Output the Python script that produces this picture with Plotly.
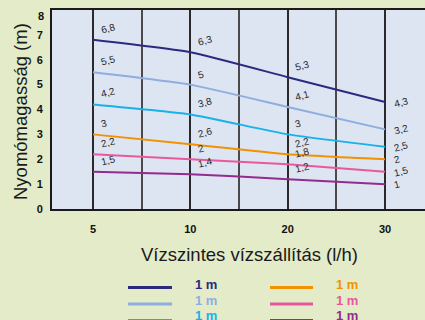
import plotly.graph_objects as go

# Flow rates (l/h) shown as evenly spaced categories
flow_rates = ["5", "10", "20", "30"]

# Pressure head (m) for each pump curve
head_a = [6.8, 6.3, 5.3, 4.3]
head_b = [5.5, 5.0, 4.1, 3.2]
head_c = [4.2, 3.8, 3.0, 2.5]
head_d = [3.0, 2.6, 2.2, 2.0]
head_e = [2.2, 2.0, 1.8, 1.5]
head_f = [1.5, 1.4, 1.2, 1.0]

series_values = [head_a, head_b, head_c, head_d, head_e, head_f]
series_names = ["1 m", "1 m", "1 m", "1 m", "1 m", "1 m"]
series_colors = ["#2c2a7e", "#8eaede", "#19b2e8", "#f39200", "#e9589c", "#952b8d"]

y_ticks = [0, 1, 2, 3, 4, 5, 6, 7]
y_top = 8

FONT = "Arial, Liberation Sans, sans-serif"
W, H = 425, 320
L, R, T, B = 52, 0, 10, 111
PW, PH = W - L - R, H - T - B


def px_x(p):
    return (p - L) / PW


def px_y(p):
    return (H - B - p) / PH


def fmt(v):
    s = f"{v:g}"
    return s.replace(".", ",")


x_pos = list(range(len(flow_rates)))

fig = go.Figure()
for vals, name, col in zip(series_values, series_names, series_colors):
    fig.add_trace(go.Scatter(
        x=x_pos, y=vals, name=name, mode="lines",
        line=dict(color=col, width=2, shape="spline", smoothing=0.5),
        showlegend=False, hoverinfo="skip",
    ))

annotations = []
# value labels next to each point
for vals in series_values:
    for i, v in enumerate(vals):
        last = i == len(vals) - 1
        annotations.append(dict(
            x=x_pos[i], y=v, xref="x", yref="y", text=fmt(v),
            showarrow=False, textangle=-15,
            xanchor="left", yanchor="middle" if last else "bottom",
            xshift=5 if last else 4, yshift=0 if last else 2,
            font=dict(family=FONT, size=10, color="#262626"),
        ))

# top y tick label, nudged down inside the frame
annotations.append(dict(
    x=0, y=y_top, xref="paper", yref="y", text=f"<b>{y_top}</b>",
    showarrow=False, xanchor="right", yanchor="middle",
    xshift=-6, yshift=-6,
    font=dict(family=FONT, size=11, color="#111111"),
))

# axis titles
annotations.append(dict(
    x=px_x(249), y=px_y(255), xref="paper", yref="paper",
    text="Vízszintes vízszállítás (l/h)", showarrow=False,
    xanchor="center", yanchor="middle",
    font=dict(family=FONT, size=18.5, color="#1a1a1a"),
))
annotations.append(dict(
    x=px_x(20), y=px_y(112), xref="paper", yref="paper",
    text="Nyomómagasság (m)", showarrow=False, textangle=-90,
    xanchor="center", yanchor="middle",
    font=dict(family=FONT, size=18.5, color="#1a1a1a"),
))

# legend: two columns of three entries
shapes = []
col_line_x = [(128, 172), (270, 313)]
col_text_x = [193, 334]
row_line_y = [287.5, 304, 320.5]
row_text_y = [284, 300, 315]
for k, (name, col) in enumerate(zip(series_names, series_colors)):
    c, r = divmod(k, 3)
    x0, x1 = col_line_x[c]
    yl = row_line_y[r]
    shapes.append(dict(
        type="line", xref="paper", yref="paper",
        x0=px_x(x0), x1=px_x(x1), y0=px_y(yl), y1=px_y(yl),
        line=dict(color=col, width=3),
    ))
    annotations.append(dict(
        x=px_x(col_text_x[c]), y=px_y(row_text_y[r]), xref="paper", yref="paper",
        text=f"<b>{name}</b>", showarrow=False,
        xanchor="left", yanchor="middle",
        font=dict(family=FONT, size=13, color=col),
    ))

fig.update_layout(
    width=W, height=H,
    margin=dict(l=L, r=R, t=T, b=B),
    paper_bgcolor="#e3ebc8",
    plot_bgcolor="#dde4f2",
    showlegend=False,
    annotations=annotations,
    shapes=shapes,
    xaxis=dict(
        range=[-0.421, 3.41],
        tickmode="array", tickvals=x_pos, ticktext=flow_rates,
        tickfont=dict(family=FONT, size=11, color="#111111", weight="bold"),
        ticks="", ticklabelstandoff=9,
        showgrid=True, gridcolor="#2a2a2a", gridwidth=1.5,
        minor=dict(tick0=0, dtick=0.5, showgrid=True, gridcolor="#4a4a4a", gridwidth=1.5),
        showline=True, linecolor="#1a1a1a", linewidth=2, mirror=True,
        zeroline=False, fixedrange=True,
    ),
    yaxis=dict(
        range=[0, y_top],
        tickmode="array", tickvals=y_ticks,
        tickfont=dict(family=FONT, size=11, color="#111111", weight="bold"),
        ticks="", ticklabelstandoff=5,
        showgrid=False, zeroline=False,
        showline=True, linecolor="#1a1a1a", linewidth=2,
        fixedrange=True,
    ),
)

fig.write_html("out.html")
